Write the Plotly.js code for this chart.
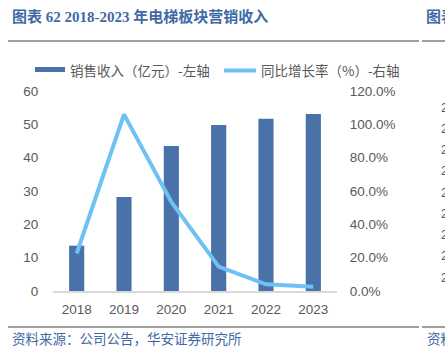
<!DOCTYPE html>
<html>
<head>
<meta charset="utf-8">
<script src="https://cdn.plot.ly/plotly-3.0.1.min.js"></script>
<style>
html,body{margin:0;padding:0;background:#fff;}
#chart{width:445px;height:357px;}
</style>
</head>
<body>
<div id="chart"></div>
<script>
// ---- data ----
var years = ['2018', '2019', '2020', '2021', '2022', '2023'];
var revenue = [13.6, 28.2, 43.5, 49.8, 51.7, 53.1];        // 销售收入（亿元）
var growth = [22.5, 106.0, 53.5, 14.6, 4.0, 2.6];           // 同比增长率（%）
var leftTicks = [0, 10, 20, 30, 40, 50, 60];
var rightTicks = [0, 20, 40, 60, 80, 100, 120];
var rightTickText = ['0.0%', '20.0%', '40.0%', '60.0%', '80.0%', '100.0%', '120.0%'];

// ---- geometry helpers (plot area in pixels) ----
var W = 445, H = 357;
var PL = 53, PR = 337, PT = 91, PB = 291;
function px(x) { return (x - PL) / (PR - PL); }
function py(y) { return (PB - y) / (PB - PT); }

var blue = '#4A72A8';
var light = '#6EC2F3';
var gray = '#595959';
var titleBlue = '#4169A5';
var cjk = 'Noto Sans CJK SC';

var traces = [
  {
    type: 'bar', x: years, y: revenue, name: '销售收入（亿元）-左轴',
    marker: { color: blue }, width: 0.32, yaxis: 'y', hoverinfo: 'none'
  },
  {
    type: 'scatter', mode: 'lines', x: years, y: growth, name: '同比增长率（%）-右轴',
    line: { color: light, width: 4 }, yaxis: 'y2', hoverinfo: 'none'
  }
];

var shapes = [
  // top separators
  { type: 'line', xref: 'paper', yref: 'paper', x0: px(8), x1: px(419), y0: py(41), y1: py(41), line: { color: '#7f7f7f', width: 1.5 } },
  { type: 'line', xref: 'paper', yref: 'paper', x0: px(422), x1: px(446), y0: py(41), y1: py(41), line: { color: '#7f7f7f', width: 1.5 } },
  // bottom separators
  { type: 'line', xref: 'paper', yref: 'paper', x0: px(8), x1: px(419), y0: py(327), y1: py(327), line: { color: '#7f7f7f', width: 1.5 } },
  { type: 'line', xref: 'paper', yref: 'paper', x0: px(422), x1: px(446), y0: py(327), y1: py(327), line: { color: '#7f7f7f', width: 1.5 } },
  // legend swatches
  { type: 'rect', xref: 'paper', yref: 'paper', x0: px(35), x1: px(65), y0: py(72), y1: py(67), fillcolor: blue, line: { width: 0 } },
  { type: 'line', xref: 'paper', yref: 'paper', x0: px(224), x1: px(256), y0: py(70.5), y1: py(70.5), line: { color: light, width: 4 } }
];

var annotations = [
  { text: '销售收入（亿元）-左轴', xref: 'paper', yref: 'paper', x: px(68), y: py(70), xanchor: 'left', yanchor: 'middle', showarrow: false, font: { family: cjk, size: 13.5, color: gray } },
  { text: '同比增长率（%）-右轴', xref: 'paper', yref: 'paper', x: px(259), y: py(70), xanchor: 'left', yanchor: 'middle', showarrow: false, font: { family: cjk, size: 13.5, color: gray } },
  { text: '资料来源：公司公告，华安证券研究所', xref: 'paper', yref: 'paper', x: px(10), y: py(338), xanchor: 'left', yanchor: 'middle', showarrow: false, font: { family: cjk, size: 13.5, color: titleBlue } },
  // neighbouring column (cut off at right edge, as in the reference)
  { text: '<b>图表</b>', xref: 'paper', yref: 'paper', x: px(424), y: py(17), xanchor: 'left', yanchor: 'middle', showarrow: false, font: { family: 'Liberation Serif, ' + cjk, size: 15, color: titleBlue } },
  { text: '资料', xref: 'paper', yref: 'paper', x: px(425), y: py(338), xanchor: 'left', yanchor: 'middle', showarrow: false, font: { family: cjk, size: 13.5, color: titleBlue } }
];
for (var i = 0; i < 9; i++) {
  annotations.push({ text: '2', xref: 'paper', yref: 'paper', x: px(439), y: py(107 + i * 21.25), xanchor: 'left', yanchor: 'middle', showarrow: false, font: { family: 'Liberation Sans', size: 13, color: gray } });
}

var layout = {
  width: W, height: H,
  margin: { l: PL, r: W - PR, t: PT, b: H - PB, pad: 0 },
  paper_bgcolor: '#ffffff', plot_bgcolor: '#ffffff',
  showlegend: false,
  title: {
    text: '<b>图表 62 2018-2023 年电梯板块营销收入</b>',
    xref: 'container', yref: 'container', x: 12 / W, xanchor: 'left', y: 1 - 17 / H, yanchor: 'middle',
    font: { family: 'Liberation Serif, ' + cjk, size: 15, color: titleBlue }
  },
  font: { family: 'Liberation Sans, Arial, sans-serif', color: gray, size: 13.5 },
  bargap: 0.68,
  xaxis: {
    type: 'category', showgrid: false, zeroline: false,
    showline: true, linecolor: '#d9d9d9', linewidth: 1.5,
    ticks: 'outside', ticklen: 5, tickcolor: 'rgba(0,0,0,0)',
    tickfont: { family: 'Liberation Sans', size: 13.5, color: gray },
    fixedrange: true
  },
  yaxis: {
    range: [0, 60], tickvals: leftTicks, ticktext: leftTicks.map(String),
    showgrid: false, zeroline: false, showline: false,
    ticks: 'outside', ticklen: 11, tickcolor: 'rgba(0,0,0,0)',
    tickfont: { family: 'Liberation Sans', size: 13.5, color: gray },
    fixedrange: true
  },
  yaxis2: {
    overlaying: 'y', side: 'right', range: [0, 120],
    tickvals: rightTicks, ticktext: rightTickText,
    showgrid: false, zeroline: false, showline: false,
    ticks: 'outside', ticklen: 9, tickcolor: 'rgba(0,0,0,0)',
    tickfont: { family: 'Liberation Sans', size: 13.5, color: gray },
    fixedrange: true
  },
  shapes: shapes,
  annotations: annotations
};

Plotly.newPlot('chart', traces, layout, { staticPlot: true, displayModeBar: false });
</script>
</body>
</html>
